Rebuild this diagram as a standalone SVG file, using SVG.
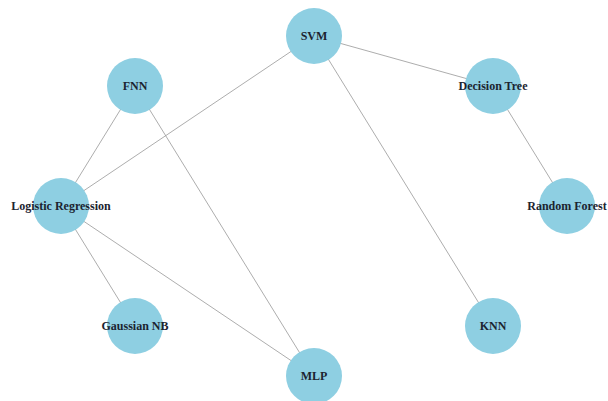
<svg xmlns="http://www.w3.org/2000/svg" width="608" height="401" viewBox="0 0 608 401">
<style>
.edge{stroke:#999;stroke-width:1;stroke-opacity:0.8;fill:none}
.node circle{fill:#8ecfe2}
.node text{font-family:"Liberation Serif","Times New Roman",serif;font-weight:bold;font-size:12px;fill:#1c2430;text-anchor:middle;dominant-baseline:central}
</style>
<rect width="608" height="401" fill="#fff"/>
<g id="edges">
<line class="edge" x1="314" y1="36" x2="493" y2="86"/>
<line class="edge" x1="314" y1="36" x2="61" y2="206"/>
<line class="edge" x1="314" y1="36" x2="493" y2="326"/>
<line class="edge" x1="135" y1="86" x2="61" y2="206"/>
<line class="edge" x1="135" y1="86" x2="314" y2="376"/>
<line class="edge" x1="493" y1="86" x2="567" y2="206"/>
<line class="edge" x1="61" y1="206" x2="135" y2="326"/>
<line class="edge" x1="61" y1="206" x2="314" y2="376"/>
</g>
<g id="svm" class="node"><circle cx="314" cy="36" r="28"/><text x="314" y="36">SVM</text></g>
<g id="decision-tree" class="node"><circle cx="493" cy="86" r="28"/><text x="493" y="86">Decision Tree</text></g>
<g id="random-forest" class="node"><circle cx="567" cy="206" r="28"/><text x="567" y="206">Random Forest</text></g>
<g id="knn" class="node"><circle cx="493" cy="326" r="28"/><text x="493" y="326">KNN</text></g>
<g id="mlp" class="node"><circle cx="314" cy="376" r="28"/><text x="314" y="376">MLP</text></g>
<g id="gaussian-nb" class="node"><circle cx="135" cy="326" r="28"/><text x="135" y="326">Gaussian NB</text></g>
<g id="logistic-regression" class="node"><circle cx="61" cy="206" r="28"/><text x="61" y="206">Logistic Regression</text></g>
<g id="fnn" class="node"><circle cx="135" cy="86" r="28"/><text x="135" y="86">FNN</text></g>
</svg>
